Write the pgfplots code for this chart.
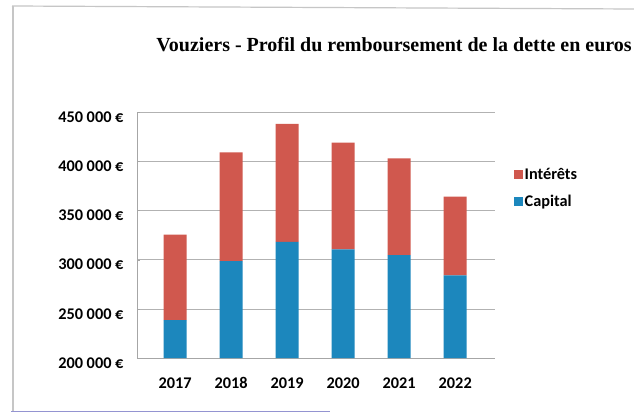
\documentclass[border=0pt]{standalone}
\usepackage{pgfplots}
\pgfplotsset{compat=1.18}
\usepackage{fontspec}
\setmainfont{Carlito}
\newfontfamily\titlefont{Liberation Serif}
\definecolor{interet}{RGB}{208,88,78}
\definecolor{capital}{RGB}{28,135,189}
\begin{document}
\begin{tikzpicture}[x=1pt,y=1pt]
\useasboundingbox (0,0) rectangle (634,416);
\fill[white] (0,0) rectangle (634,416);
\draw[gray!45, line width=1.2pt] (13,5) -- (13,410);
\draw[gray!45, line width=1.2pt] (12,410) -- (634,407);
\draw[gray!60!blue!60, line width=0.8pt] (11,5) -- (330,5);
\node[font=\titlefont\bfseries\fontsize{20}{24}\selectfont, anchor=base] at (394,364) {Vouziers - Profil du remboursement de la dette en euros};
\begin{axis}[
  at={(137pt,58pt)}, anchor=south west,
  scale only axis, width=358pt, height=246pt,
  ybar stacked, bar width=23pt,
  xmin=-0.68, xmax=5.71, ymin=200000, ymax=450000,
  scaled y ticks=false,
  xtick=data, xticklabels={2017,2018,2019,2020,2021,2022},
  ytick={200000,250000,300000,350000,400000,450000},
  yticklabels={200 000 €,250 000 €,300 000 €,350 000 €,400 000 €,450 000 €},
  yticklabel style={font=\bfseries\fontsize{16.3}{18}\selectfont, xshift=-10pt, yshift=-5pt},
  xticklabel style={font=\bfseries\fontsize{16.3}{18}\selectfont, yshift=-16pt},
  axis x line*=bottom, axis y line*=left,
  axis line style={gray!70},
  major tick length=3pt, tick style={gray!70},
  xtick style={draw=none},
  ymajorgrids, grid style={gray!60, line width=0.6pt},
  legend style={draw=none, fill=none, at={(1.053,0.78)}, anchor=north west,
    font=\bfseries\fontsize{16.3}{18}\selectfont, row sep=11pt, inner sep=0pt,
    nodes={inner sep=1.5pt}},
  legend image code/.code={\fill[#1] (0pt,-4.5pt) rectangle (9pt,4.5pt);},
  legend cell align=left,
  reverse legend,
]
\addplot[fill=capital, draw=none] coordinates {(0,238500) (1,298500) (2,318000) (3,310500) (4,304500) (5,284000)};
\addlegendentry{Capital}
\addplot[fill=interet, draw=none] coordinates {(0,87000) (1,110500) (2,120000) (3,108500) (4,98500) (5,80000)};
\addlegendentry{Intérêts}
\end{axis}
\end{tikzpicture}
\end{document}
